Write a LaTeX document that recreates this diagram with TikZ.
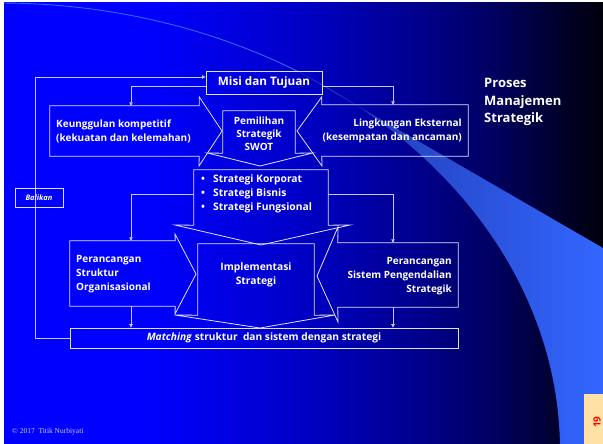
\documentclass[tikz,border=0pt]{standalone}
\usepackage{fontspec}
\setmainfont{Open Sans}[Ligatures=NoCommon]
\newfontfamily\footfont{Liberation Serif}
\usetikzlibrary{arrows.meta}

% slide colours
\definecolor{bgA}{RGB}{0,0,255}
\definecolor{bgB}{RGB}{0,0,198}
\definecolor{bgC}{RGB}{0,0,140}
\definecolor{bgD}{RGB}{0,0,92}
\definecolor{bgE}{RGB}{0,0,42}
\definecolor{bgF}{RGB}{0,0,12}
\definecolor{swL}{RGB}{30,52,165}
\definecolor{swR}{RGB}{51,102,255}
\definecolor{lnc}{RGB}{225,225,250}
\definecolor{connc}{RGB}{200,200,235}
\definecolor{tabc}{RGB}{255,224,165}
\definecolor{footc}{RGB}{205,205,255}

\tikzset{
  body/.style={draw=none, inner sep=0pt, text=white},
  outline/.style={draw=lnc, line width=0.8pt},
  conn/.style={draw=connc, line width=0.7pt},
  connarr/.style={conn, -{Triangle[length=3.5pt,width=3.5pt]}},
  txt/.style={text=white, inner sep=0pt, font=\fontsize{10}{14}\selectfont\bfseries},
}

\begin{document}
\begin{tikzpicture}[x=1pt, y=-1pt]
\useasboundingbox (0,0) rectangle (603,444);

% slide background with horizontal fade to black
\begin{scope}
  \clip (4,2) rectangle (603,444);
  \fill[bgA] (4,2) rectangle (151,444);
  \shade[left color=bgA, right color=bgB] (150,2) rectangle (301,444);
  \shade[left color=bgB, right color=bgC] (300,2) rectangle (421,444);
  \shade[left color=bgC, right color=bgD] (420,2) rectangle (501,444);
  \shade[left color=bgD, right color=bgE] (500,2) rectangle (561,444);
  \shade[left color=bgE, right color=bgF] (560,2) rectangle (603,444);
  % decorative swoosh
  \shade[left color=swL, middle color=swR, right color=swR]
    plot[domain=57.8:0.7, samples=60, smooth] ({560*cos(\x)},{450-447*sin(\x)})
    -- (603,444) -- (603,248) -- cycle;
  \draw[swR, line width=0.9pt]
    plot[domain=90:57.8, samples=40, smooth] ({560*cos(\x)},{450-447*sin(\x)});
\end{scope}
% page margin
\fill[white] (0,0) rectangle (603,2);
\fill[white] (0,0) rectangle (4,444);

% page tab
\fill[tabc] (584,394) rectangle (603,444);
\node[rotate=90, text=red, inner sep=0pt, font=\fontsize{10}{10}\selectfont\bfseries] (pg) at (597,422) {19};

% footer
\node[anchor=west, text=footc, inner sep=0pt, font=\footfont\fontsize{7.5}{8}\selectfont] (foot) at (12,432) {© 2017\ \ Titik Nurbiyati};

% title
\node[anchor=west, text=white, inner sep=0pt, align=left,
      font=\fontsize{13}{17.5}\selectfont\bfseries] (title) at (484,102)
  {Proses\\Manajemen\\Strategik};

% mission box
\node[body, outline, minimum width=116pt, minimum height=23pt,
      font=\fontsize{11.7}{14}\selectfont\bfseries] (misi) at (264,82.5) {Misi dan Tujuan};

% internal analysis (right-pointing block arrow)
\node[body, minimum width=149pt, minimum height=50pt] (keu) at (124.5,131) {};
\draw[outline] (keu.north west) -- (keu.north east) -- ++(0,-9) -- (222,131) coordinate (keutip)
  -- (199,166) -- (keu.south east) -- (keu.south west) -- cycle;
\node[txt, anchor=west, align=left] (keut) at (56,131) {Keunggulan kompetitif\\(kekuatan dan kelemahan)};

% external analysis (left-pointing block arrow)
\node[body, minimum width=146pt, minimum height=51pt] (ling) at (395,130.5) {};
\draw[outline] (ling.north east) -- (ling.north west) -- ++(0,-8) -- (297,131) coordinate (lingtip)
  -- (322,166) -- (ling.south west) -- (ling.south east) -- cycle;
\node[txt, anchor=east, align=right] (lingt) at (462,131) {Lingkungan Eksternal\\(kesempatan dan ancaman)};

% strategic choice (down-pointing block arrow)
\node[body, minimum width=72pt, minimum height=42pt] (swot) at (259,132) {};
\draw[outline] (swot.south west) -- (swot.north west) -- (swot.north east) -- (swot.south east)
  -- (312.5,153) -- (260,166) coordinate (swottip) -- (207.5,153) -- cycle;
\node[txt, align=center, font=\fontsize{10}{13}\selectfont\bfseries] (swott) at (259,134) {Pemilihan\\Strategik\\SWOT};

% strategy levels (down-pointing block arrow)
\node[body, minimum width=134pt, minimum height=55pt] (strat) at (261,197.5) {};
\draw[outline] (strat.south west) -- (strat.north west) -- (strat.north east) -- (strat.south east)
  -- (350,225) -- (261,245) coordinate (strattip) -- (175,225) -- cycle;
\node[txt, anchor=west, align=left, font=\fontsize{10.3}{14}\selectfont\bfseries] (stratt) at (201,194)
  {\makebox[12pt][l]{•}Strategi Korporat\\\makebox[12pt][l]{•}Strategi Bisnis\\\makebox[12pt][l]{•}Strategi Fungsional};

% implementation (down-pointing block arrow)
\node[body, minimum width=116pt, minimum height=71pt] (impl) at (256,279.5) {};
\draw[outline] (impl.south west) -- (impl.north west) -- (impl.north east) -- (impl.south east)
  -- (335,315) -- (260,328) coordinate (impltip) -- (175,315) -- cycle;
\node[txt, align=center, font=\fontsize{10.3}{14}\selectfont\bfseries] (implt) at (256,275) {Implementasi\\Strategi};

% structure design (right-pointing block arrow)
\node[body, minimum width=105pt, minimum height=65pt] (stru) at (122.5,273.5) {};
\draw[outline] (stru.north west) -- (stru.north east) -- (175,234) -- (196,274) coordinate (strutip)
  -- (175,314) -- (stru.south east) -- (stru.south west) -- cycle;
\node[txt, anchor=west, align=left] (strut) at (76,274) {Perancangan\\Struktur\\Organisasional};

% control system design (left-pointing block arrow)
\node[body, minimum width=120pt, minimum height=64pt] (sist) at (398,275) {};
\draw[outline] (sist.north east) -- (sist.north west) -- (338,227) -- (317,276) coordinate (sisttip)
  -- (338,322) -- (sist.south west) -- (sist.south east) -- cycle;
\node[txt, anchor=east, align=right] (sistt) at (452,276) {Perancangan\\Sistem Pengendalian\\Strategik};

% matching box
\node[body, outline, minimum width=388pt, minimum height=20pt,
      font=\fontsize{10.2}{12}\selectfont\bfseries] (match) at (264,338)
  {\textit{Matching} struktur\ \ dan sistem dengan strategi};

% feedback loop
\coordinate (fb1) at (35,338);
\coordinate (fb2) at (35,77);
\draw[connarr] (match.west) -- (fb1) -- (fb2) -- (fb2 -| misi.west);
\node[draw=lnc, line width=0.7pt, text=white, minimum width=48pt, minimum height=19pt, inner sep=0pt,
      font=\fontsize{7.5}{9}\selectfont\bfseries\itshape] (balik) at (39,197.5) {Balikan};

% connectors between stages
\coordinate (mL) at (131,86);
\coordinate (mR) at (393,86);
\draw[connarr] (misi.west |- mL) -- (mL) -- (mL |- keu.north);
\draw[connarr] (misi.east |- mR) -- (mR) -- (mR |- ling.north);

\coordinate (sL) at (131,194);
\coordinate (sR) at (393,194);
\draw[connarr] (strat.west |- sL) -- (sL) -- (sL |- stru.north);
\draw[connarr] (strat.east |- sR) -- (sR) -- (sR |- sist.north);

\draw[connarr] (stru.south -| sL) -- (sL |- match.north);
\draw[connarr] (sist.south -| sR) -- (sR |- match.north);
\end{tikzpicture}
\end{document}
